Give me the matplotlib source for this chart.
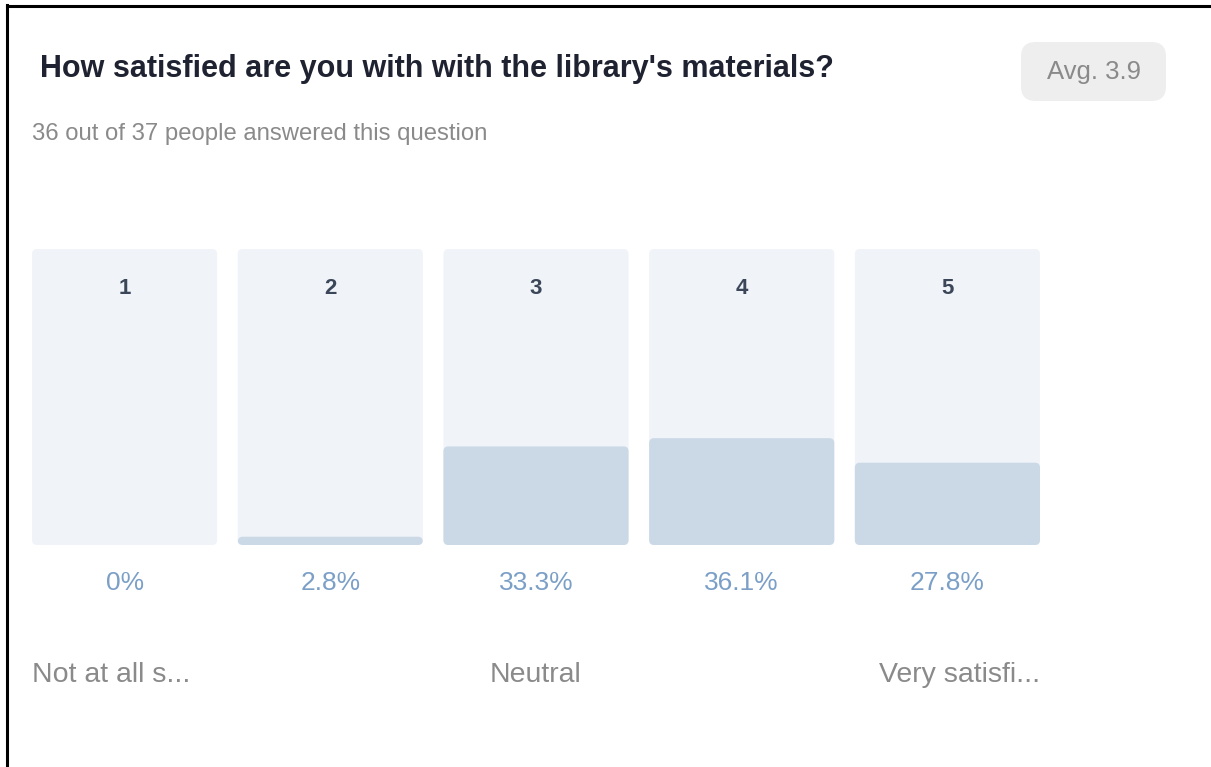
import matplotlib
matplotlib.use("Agg")
import matplotlib.pyplot as plt
from matplotlib.patches import FancyBboxPatch
from matplotlib.lines import Line2D

# ---- data ----
title = "How satisfied are you with with the library's materials?"
subtitle = "36 out of 37 people answered this question"
avg_label = "Avg. 3.9"
ratings = ["1", "2", "3", "4", "5"]
shares = [0.0, 2.8, 33.3, 36.1, 27.8]
scale_labels = ["Not at all s...", "Neutral", "Very satisfi..."]

W, H = 1211, 767
fig = plt.figure(figsize=(W / 100, H / 100), dpi=100)
fig.patch.set_facecolor("white")

SANS = ["Liberation Sans", "DejaVu Sans"]


def fx(px):
    return px / W


def fy(py):
    return 1 - py / H


# frame lines (left + top only)
fig.add_artist(Line2D([fx(7), fx(7)], [fy(5), fy(H)], color="black", lw=2.2))
fig.add_artist(Line2D([fx(7), fx(W)], [fy(6), fy(6)], color="black", lw=2.2))

# header
fig.text(fx(40), fy(69), title, fontsize=22, fontweight="bold",
         color="#1f2230", family=SANS, va="center", ha="left")
fig.text(fx(32), fy(134), subtitle, fontsize=17.2, color="#8a8a8a",
         family=SANS, va="center", ha="left")

# avg badge
badge = FancyBboxPatch((fx(1021), fy(101)), fx(145), 59 / H,
                       boxstyle="round,pad=0,rounding_size=0.012",
                       mutation_aspect=W / H,
                       transform=fig.transFigure, facecolor="#eeeeee",
                       edgecolor="none")
fig.add_artist(badge)
fig.text(fx(1094), fy(72), avg_label, fontsize=18.5, color="#8a8a8a",
         family=SANS, va="center", ha="center")

# bars
ax = fig.add_axes([fx(32), fy(545), fx(1040 - 32), (545 - 249) / H])
ax.set_xlim(-0.45, 4.45)
ax.set_ylim(0, 100)
ax.axis("off")

xs = list(range(len(ratings)))
bg = ax.bar(xs, [100] * len(xs), width=0.9, color="#f0f3f8")
fg = ax.bar(xs, shares, width=0.9, color="#cbd9e7")

# swap plain bars for rounded ones
px_x = (1040 - 32) / 4.9
px_y = (545 - 249) / 100
aspect = px_x / px_y
for bars in (bg, fg):
    for b in bars:
        b.set_visible(False)
        if b.get_height() <= 0:
            continue
        r = 5 / px_x
        rp = FancyBboxPatch((b.get_x(), b.get_y()), b.get_width(), b.get_height(),
                            boxstyle=f"round,pad=0,rounding_size={r}",
                            mutation_aspect=aspect,
                            facecolor=b.get_facecolor(), edgecolor="none")
        ax.add_patch(rp)

for x, lab, v in zip(xs, ratings, shares):
    ax.text(x, 100 - (289 - 249) / px_y, lab, ha="center", va="center",
            fontsize=16, fontweight="bold", color="#3b4758", family=SANS)
    ax.text(x, -(583 - 545) / px_y, f"{v:g}%", ha="center", va="center",
            fontsize=19, color="#7b9fc7", family=SANS, clip_on=False)

label_y = -(675 - 545) / px_y
ax.text(xs[0] - 0.45, label_y, scale_labels[0], ha="left", va="center",
        fontsize=20.5, color="#8a8a8a", family=SANS, clip_on=False)
ax.text(xs[2], label_y, scale_labels[1], ha="center", va="center",
        fontsize=20.5, color="#8a8a8a", family=SANS, clip_on=False)
ax.text(xs[4] + 0.45, label_y, scale_labels[2], ha="right", va="center",
        fontsize=20.5, color="#8a8a8a", family=SANS, clip_on=False)

fig.savefig("out.png", dpi=100)
